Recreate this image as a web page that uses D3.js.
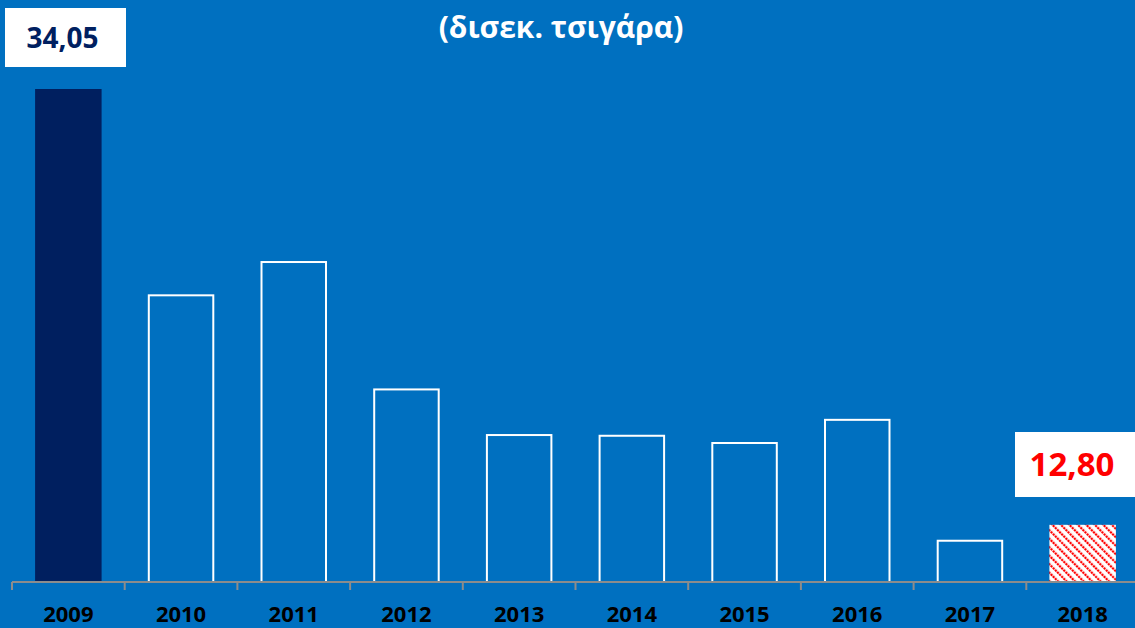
<!DOCTYPE html>
<html>
<head>
<meta charset="utf-8">
<script src="https://cdn.jsdelivr.net/npm/d3@7"></script>
<style>
  html, body { margin: 0; padding: 0; background: #0070C0; }
  svg { display: block; }
</style>
</head>
<body>
<svg class="chart" width="1135" height="628"></svg>
<script>
(function () {

    'use strict';

    var years = ['2009', '2010', '2011', '2012', '2013', '2014', '2015', '2016', '2017', '2018'];
    var values = [34.05, 19.8, 22.1, 13.3, 10.15, 10.1, 9.6, 11.2, 2.85, 3.95];
    var title = '(δισεκ. τσιγάρα)';
    var firstLabel = '34,05';
    var lastLabel = '12,80';

    var svg = d3.select('svg.chart'),
        width = +svg.attr('width'),
        height = +svg.attr('height');

    var font = 'Open Sans, Noto Sans, sans-serif';
    var baseY = 582;

    // red hatch for the last year
    var defs = svg.append('defs');
    var pat = defs.append('pattern')
        .attr('id', 'hatch')
        .attr('patternUnits', 'userSpaceOnUse')
        .attr('width', 6)
        .attr('height', 6)
        .attr('patternTransform', 'rotate(-45)');
    pat.append('rect').attr('width', 6).attr('height', 6).attr('fill', '#fff');
    pat.append('line')
        .attr('x1', 1).attr('y1', 0).attr('x2', 1).attr('y2', 6)
        .attr('stroke', '#ff0000')
        .attr('stroke-width', 2.4)
        .attr('stroke-dasharray', '2.2,0.8');

    svg.append('rect')
        .attr('width', width)
        .attr('height', height)
        .attr('fill', '#0070C0');

    var x = d3.scaleBand().domain(years).range([12, 1139]).paddingInner(0.41).paddingOuter(0.205);
    var y = d3.scaleLinear().domain([0, 34.05]).range([baseY, 89]);

    var band = d3.scaleBand().domain(years).range([12, 1139]);

    svg.append('text')
        .attr('x', 561)
        .attr('y', 38)
        .attr('text-anchor', 'middle')
        .attr('font-family', font)
        .attr('font-weight', 'bold')
        .attr('font-size', 30)
        .attr('fill', '#fff')
        .text(title);

    svg.append('g')
        .selectAll('rect')
        .data(years)
        .enter().append('rect')
        .attr('x', function (d, i) { return i === 0 || i === years.length - 1 ? x(d) : x(d) + 1; })
        .attr('y', function (d, i) { return y(values[i]); })
        .attr('width', function (d, i) { return i === 0 || i === years.length - 1 ? x.bandwidth() : x.bandwidth() - 2; })
        .attr('height', function (d, i) { return baseY - y(values[i]); })
        .attr('fill', function (d, i) {
            if (i === 0) return '#001F5F';
            if (i === years.length - 1) return 'url(#hatch)';
            return 'none';
        })
        .attr('stroke', function (d, i) { return i === 0 || i === years.length - 1 ? 'none' : '#fff'; })
        .attr('stroke-width', 2);

    // axis
    var axis = svg.append('g');
    axis.append('line')
        .attr('x1', 12).attr('x2', width)
        .attr('y1', baseY).attr('y2', baseY)
        .attr('stroke', '#8c8c8c')
        .attr('stroke-width', 2);
    axis.selectAll('line.tick')
        .data(years)
        .enter().append('line')
        .attr('class', 'tick')
        .attr('x1', function (d) { return band(d); })
        .attr('x2', function (d) { return band(d); })
        .attr('y1', baseY)
        .attr('y2', baseY + 8)
        .attr('stroke', '#8c8c8c')
        .attr('stroke-width', 2);
    axis.selectAll('text')
        .data(years)
        .enter().append('text')
        .attr('x', function (d) { return band(d) + band.bandwidth() / 2; })
        .attr('y', 622)
        .attr('text-anchor', 'middle')
        .attr('font-family', font)
        .attr('font-weight', 'bold')
        .attr('font-size', 22)
        .attr('fill', '#000')
        .text(function (d) { return d; });

    // value boxes
    var boxes = [
        { year: years[0], text: firstLabel, color: '#002060', x: 5, w: 121, top: 8, h: 59, size: 28 },
        { year: years[years.length - 1], text: lastLabel, color: '#ff0000', x: 1015, w: 120, top: 432, h: 65, size: 33 }
    ];
    var box = svg.append('g').selectAll('g').data(boxes).enter().append('g');
    box.append('rect')
        .attr('x', function (d) { return d.x; })
        .attr('y', function (d) { return d.top; })
        .attr('width', function (d) { return d.w; })
        .attr('height', function (d) { return d.h; })
        .attr('fill', '#fff');
    box.append('text')
        .attr('x', function (d) { return d.x + d.w / 2 - 3; })
        .attr('y', function (d) { return d.top + d.h / 2; })
        .attr('dy', '0.36em')
        .attr('text-anchor', 'middle')
        .attr('font-family', font)
        .attr('font-weight', 'bold')
        .attr('font-size', function (d) { return d.size; })
        .attr('fill', function (d) { return d.color; })
        .text(function (d) { return d.text; });

})();
</script>
</body>
</html>
